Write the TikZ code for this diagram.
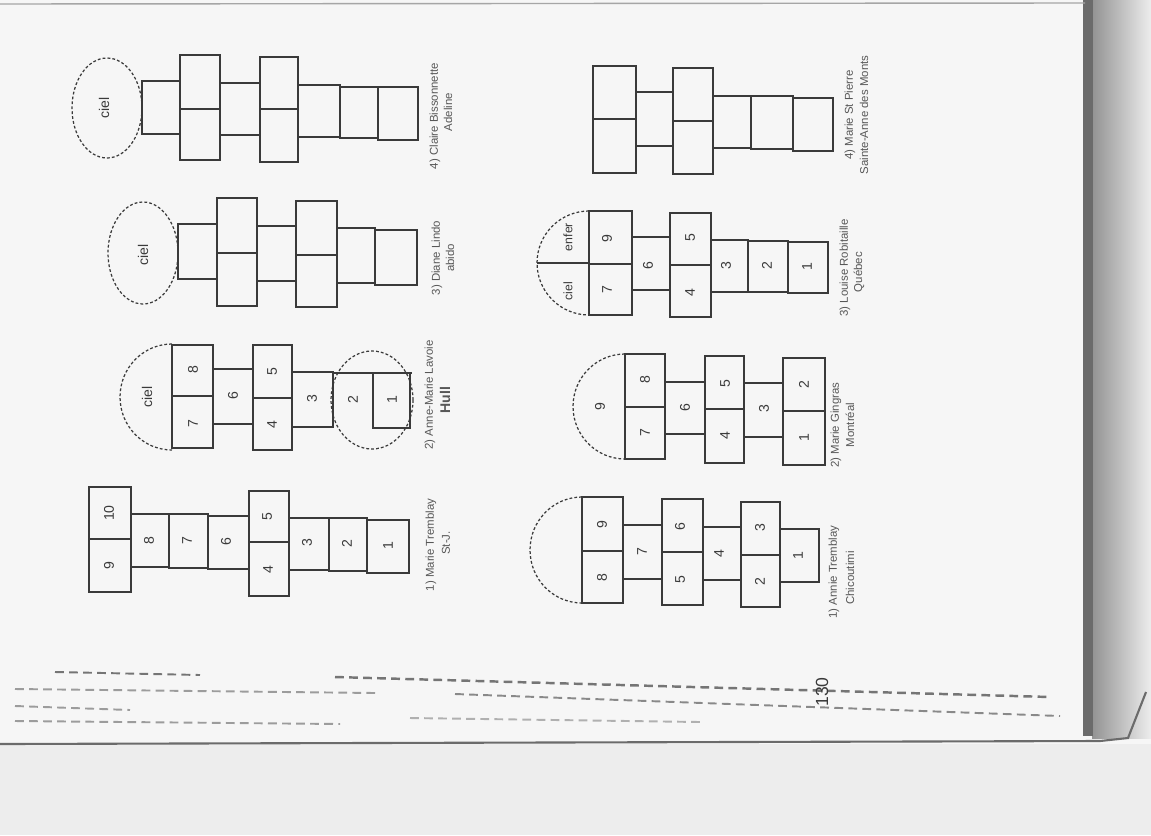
\documentclass[tikz,border=0pt]{standalone}
\usepackage{fontspec}
\setmainfont{Liberation Sans}
\definecolor{ink}{HTML}{3A3A3A}
\definecolor{paper}{HTML}{F6F6F6}
\definecolor{under}{HTML}{EDEDED}
\begin{document}
\begin{tikzpicture}[x=0.02cm,y=-0.02cm,
  cell/.style={draw=ink,line width=0.75pt},
  dline/.style={draw=ink,line width=0.7pt,dash pattern=on 1.6pt off 1.2pt},
  num/.style={font=\fontsize{8}{8}\selectfont,rotate=90,text=ink,inner sep=0pt},
  lab/.style={font=\fontsize{6.5}{7}\selectfont,rotate=90,text=ink!85,inner sep=0pt},
  bleed/.style={draw=ink!70,line width=1.1pt,dash pattern=on 5pt off 3pt}]
\useasboundingbox (0,0) rectangle (1151,835);
% page and background
\fill[paper] (0,0) rectangle (1151,835);
\fill[under] (0,744) rectangle (1151,835);
\shade[left color=ink!55,right color=under] (1092,0) rectangle (1151,738);
\fill[ink!75] (1083,0) rectangle (1093,736);
\draw[ink!45,line width=0.8pt] (0,4) -- (1085,3);
\draw[ink!75,line width=1.2pt] (0,744) -- (1100,741) -- (1128,738) -- (1146,692);
% bleed-through lines
\draw[bleed] (55,672) -- (200,675);
\draw[bleed,line width=1.4pt] (335,677) -- (1050,697);
\draw[bleed,draw=ink!50] (15,689) -- (375,693);
\draw[bleed,draw=ink!60] (455,694) -- (1060,716);
\draw[bleed,draw=ink!50] (15,706) -- (130,710);
\draw[bleed,draw=ink!50] (15,721) -- (340,724);
\draw[bleed,draw=ink!40] (410,718) -- (700,722);

% ---------- 4) Claire (top left)
\draw[dline] (107,108) ellipse [x radius=0.70cm,y radius=1.0cm];
\node[num] (ca) at (104,108) {ciel};
\draw[cell] (142,81) rectangle (180,134);
\draw[cell] (180,55) rectangle (220,160); \draw[cell] (180,109) -- (220,109);
\draw[cell] (220,83) rectangle (260,135);
\draw[cell] (260,57) rectangle (298,162); \draw[cell] (260,109) -- (298,109);
\draw[cell] (298,85) rectangle (340,137);
\draw[cell] (340,87) rectangle (378,138);
\draw[cell] (378,87) rectangle (418,140);
\node[lab] (cl1) at (435,116) {4) Claire Bissonnette};
\node[lab] (cl2) at (448,112) {Adeline};

% ---------- 3) Diane
\draw[dline] (143,253) ellipse [x radius=0.70cm,y radius=1.02cm];
\node[num] (da) at (143,255) {ciel};
\draw[cell] (178,224) rectangle (217,279);
\draw[cell] (217,198) rectangle (257,306); \draw[cell] (217,253) -- (257,253);
\draw[cell] (257,226) rectangle (296,281);
\draw[cell] (296,201) rectangle (337,307); \draw[cell] (296,255) -- (337,255);
\draw[cell] (337,228) rectangle (375,283);
\draw[cell] (375,230) rectangle (417,285);
\node[lab] (dl1) at (437,258) {3) Diane Lindo};
\node[lab] (dl2) at (450,258) {abido};

% ---------- 2) Anne-Marie Lavoie
\draw[dline] (172,344) arc [start angle=90,end angle=270,x radius=1.04cm,y radius=1.06cm];
\node[num] (aa) at (147,397) {ciel};
\draw[cell] (172,345) rectangle (213,448); \draw[cell] (172,396) -- (213,396);
\node[num] (a8) at (193,370) {8}; \node[num] (a7) at (193,424) {7};
\draw[cell] (213,369) rectangle (253,424); \node[num] (a6) at (233,396) {6};
\draw[cell] (253,345) rectangle (292,450); \draw[cell] (253,398) -- (292,398);
\node[num] (a5) at (272,372) {5}; \node[num] (a4) at (272,425) {4};
\draw[cell] (292,372) rectangle (333,427); \node[num] (a3) at (312,399) {3};
\draw[dline] (372,400) ellipse [x radius=0.82cm,y radius=0.98cm];
\draw[cell] (333,373) -- (412,373);
\draw[cell] (373,373) rectangle (410,428);
\node[num] (a2) at (353,400) {2}; \node[num] (a1) at (392,400) {1};
\node[lab] (al1) at (430,395) {2) Anne-Marie Lavoie};
\node[lab,font=\fontsize{8}{8}\selectfont\bfseries] (al2) at (445,400) {Hull};

% ---------- 1) Marie Tremblay
\draw[cell] (89,487) rectangle (131,592); \draw[cell] (89,539) -- (131,539);
\node[num] (m10) at (109,513) {10}; \node[num] (m9) at (109,566) {9};
\draw[cell] (131,514) rectangle (169,567); \node[num] (m8) at (149,541) {8};
\draw[cell] (169,514) rectangle (208,568); \node[num] (m7) at (187,541) {7};
\draw[cell] (208,516) rectangle (249,569); \node[num] (m6) at (226,542) {6};
\draw[cell] (249,491) rectangle (289,596); \draw[cell] (249,542) -- (289,542);
\node[num] (m5) at (267,517) {5}; \node[num] (m4) at (268,570) {4};
\draw[cell] (289,518) rectangle (329,570); \node[num] (m3) at (307,543) {3};
\draw[cell] (329,518) rectangle (367,571); \node[num] (m2) at (347,544) {2};
\draw[cell] (367,520) rectangle (409,573); \node[num] (m1) at (388,546) {1};
\node[lab] (ml1) at (431,545) {1) Marie Tremblay};
\node[lab] (ml2) at (446,543) {St-J.};

% ---------- 4) Marie St Pierre (top right)
\draw[cell] (593,66) rectangle (636,173); \draw[cell] (593,119) -- (636,119);
\draw[cell] (636,92) rectangle (673,146);
\draw[cell] (673,68) rectangle (713,174); \draw[cell] (673,121) -- (713,121);
\draw[cell] (713,96) rectangle (751,148);
\draw[cell] (751,96) rectangle (793,149);
\draw[cell] (793,98) rectangle (833,151);
\node[lab] (pl1) at (850,115) {4) Marie St Pierre};
\node[lab] (pl2) at (864,115) {Sainte-Anne des Monts};

% ---------- 3) Louise
\draw[dline] (589,211) arc [start angle=90,end angle=270,x radius=1.04cm,y radius=1.04cm];
\draw[cell] (537,263) -- (589,263);
\node[num,font=\fontsize{7}{7}\selectfont] (le) at (568,237) {enfer};
\node[num,font=\fontsize{7}{7}\selectfont] (lc) at (568,291) {ciel};
\draw[cell] (589,211) rectangle (632,315); \draw[cell] (589,264) -- (632,264);
\node[num] (l9) at (607,239) {9}; \node[num] (l7) at (607,290) {7};
\draw[cell] (632,237) rectangle (670,290); \node[num] (l6) at (648,266) {6};
\draw[cell] (670,213) rectangle (711,317); \draw[cell] (670,265) -- (711,265);
\node[num] (l5) at (690,238) {5}; \node[num] (l4) at (690,293) {4};
\draw[cell] (711,240) rectangle (748,292); \node[num] (l3) at (726,266) {3};
\draw[cell] (748,241) rectangle (788,292); \node[num] (l2) at (767,266) {2};
\draw[cell] (788,242) rectangle (828,293); \node[num] (l1) at (807,267) {1};
\node[lab] (ll1) at (845,268) {3) Louise Robitaille};
\node[lab] (ll2) at (859,272) {Québec};

% ---------- 2) Marie Gingras
\draw[dline] (625,354) arc [start angle=90,end angle=270,x radius=1.04cm,y radius=1.05cm];
\node[num] (g9) at (600,407) {9};
\draw[cell] (625,354) rectangle (665,459); \draw[cell] (625,407) -- (665,407);
\node[num] (g8) at (645,380) {8}; \node[num] (g7) at (645,433) {7};
\draw[cell] (665,382) rectangle (705,434); \node[num] (g6) at (685,408) {6};
\draw[cell] (705,356) rectangle (744,463); \draw[cell] (705,409) -- (744,409);
\node[num] (g5) at (725,384) {5}; \node[num] (g4) at (725,436) {4};
\draw[cell] (744,383) rectangle (783,437); \node[num] (g3) at (764,409) {3};
\draw[cell] (783,358) rectangle (825,465); \draw[cell] (783,411) -- (825,411);
\node[num] (g2) at (804,385) {2}; \node[num] (g1) at (804,438) {1};
\node[lab] (gl1) at (836,425) {2) Marie Gingras};
\node[lab] (gl2) at (850,425) {Montréal};

% ---------- 1) Annie Tremblay
\draw[dline] (582,497) arc [start angle=90,end angle=270,x radius=1.04cm,y radius=1.06cm];
\draw[cell] (582,497) rectangle (623,603); \draw[cell] (582,551) -- (623,551);
\node[num] (t9) at (602,525) {9}; \node[num] (t8) at (602,578) {8};
\draw[cell] (623,525) rectangle (662,579); \node[num] (t7) at (642,552) {7};
\draw[cell] (662,499) rectangle (703,605); \draw[cell] (662,552) -- (703,552);
\node[num] (t6) at (680,527) {6}; \node[num] (t5) at (680,580) {5};
\draw[cell] (703,527) rectangle (741,580); \node[num] (t4) at (719,554) {4};
\draw[cell] (741,502) rectangle (780,607); \draw[cell] (741,555) -- (780,555);
\node[num] (t3) at (760,528) {3}; \node[num] (t2) at (760,582) {2};
\draw[cell] (780,529) rectangle (819,582); \node[num] (t1) at (798,556) {1};
\node[lab] (tl1) at (834,572) {1) Annie Tremblay};
\node[lab] (tl2) at (850,578) {Chicoutimi};

% page number
\node[num,font=\fontsize{10}{10}\selectfont] (pg) at (822,692) {130};
\end{tikzpicture}
\end{document}
